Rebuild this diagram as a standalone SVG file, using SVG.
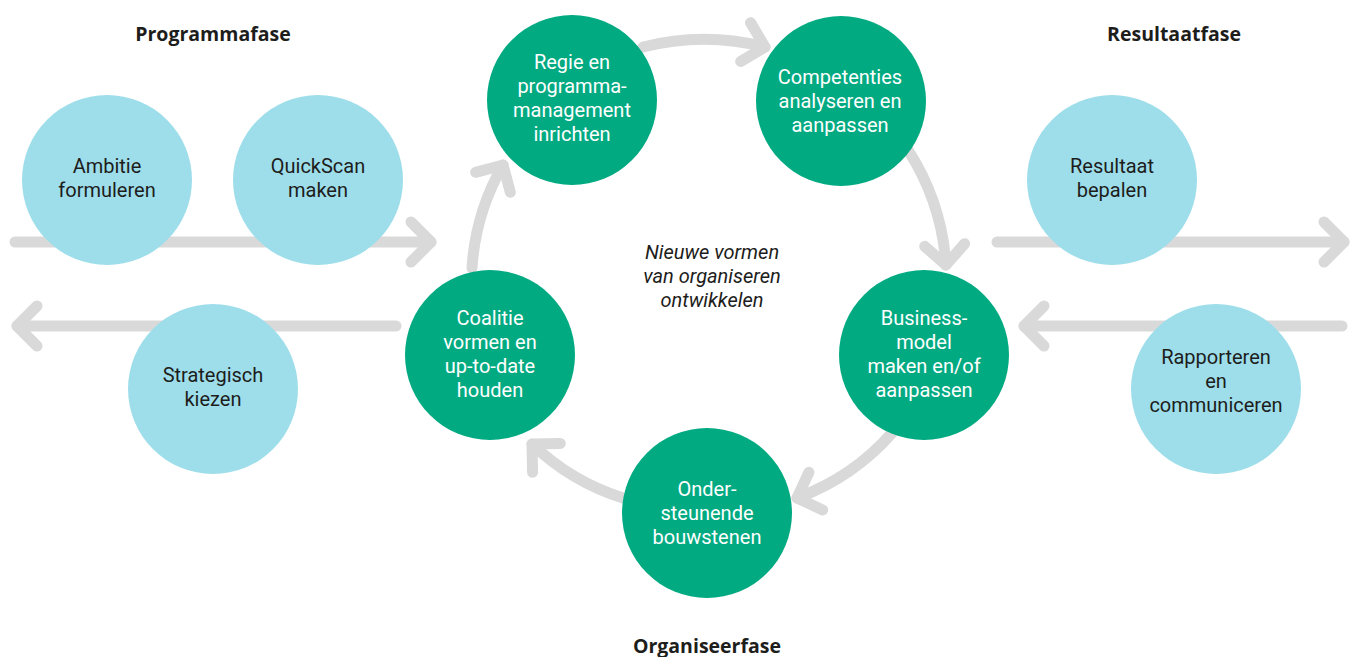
<svg xmlns="http://www.w3.org/2000/svg" width="1354" height="657" viewBox="0 0 1354 657">
  <style>
    .flow { fill: none; stroke: #d9d9d9; stroke-width: 11; stroke-linecap: round; stroke-linejoin: round; }
    .phase { fill: #9edeeb; }
    .step { fill: #02aa82; }
    .lbl { font-family: Roboto, "Liberation Sans", sans-serif; font-size: 20px; text-anchor: middle; }
    .lbl-dark { fill: #1d1d1b; }
    .lbl-light { fill: #ffffff; }
    .head { font-family: "Open Sans", "Liberation Sans", sans-serif; font-size: 19.5px; font-weight: bold; fill: #1d1d1b; text-anchor: middle; }
    .core { font-family: Roboto, "Liberation Sans", sans-serif; font-size: 20px; font-style: italic; fill: #1d1d1b; text-anchor: middle; }
  </style>
  <defs>
    <marker id="chevron" viewBox="-30 -30 40 60" markerWidth="40" markerHeight="60" refX="0" refY="0" orient="auto" markerUnits="userSpaceOnUse" overflow="visible">
      <path d="M -20 -20 L 0 0 L -20 20" fill="none" stroke="#d9d9d9" stroke-width="11" stroke-linecap="round" stroke-linejoin="round"/>
    </marker>
  </defs>

  <rect width="1354" height="657" fill="#ffffff"/>

  <!-- connectors -->
  <g id="connectors">
    <path class="flow" d="M 15 242 L 431 242" marker-end="url(#chevron)"/>
    <path class="flow" d="M 396 326 L 17 326" marker-end="url(#chevron)"/>
    <path class="flow" d="M 997 242 L 1344 242" marker-end="url(#chevron)"/>
    <path class="flow" d="M 1342 326 L 1024 326" marker-end="url(#chevron)"/>
    <path class="flow" d="M 643 47 A 247 247 0 0 1 765 47" marker-end="url(#chevron)"/>
    <path class="flow" d="M 908 150 A 242 242 0 0 1 946 265" marker-end="url(#chevron)"/>
    <path class="flow" d="M 892 433 A 234 234 0 0 1 797 498" marker-end="url(#chevron)"/>
    <path class="flow" d="M 623 498 A 233 233 0 0 1 532 444" marker-end="url(#chevron)"/>
    <path class="flow" d="M 472 268 A 236 236 0 0 1 503 165" marker-end="url(#chevron)"/>
  </g>

  <!-- phase headings -->
  <text class="head" x="213" y="41">Programmafase</text>
  <text class="head" x="1174" y="41">Resultaatfase</text>
  <text class="head" x="707" y="653">Organiseerfase</text>

  <!-- programme phase -->
  <g id="ambitie">
    <circle class="phase" cx="107" cy="180" r="85"/>
    <text class="lbl lbl-dark" x="107" y="173">Ambitie</text>
    <text class="lbl lbl-dark" x="107" y="197">formuleren</text>
  </g>
  <g id="quickscan">
    <circle class="phase" cx="318" cy="180" r="85"/>
    <text class="lbl lbl-dark" x="318" y="173">QuickScan</text>
    <text class="lbl lbl-dark" x="318" y="197">maken</text>
  </g>
  <g id="strategisch">
    <circle class="phase" cx="213" cy="389" r="85"/>
    <text class="lbl lbl-dark" x="213" y="382">Strategisch</text>
    <text class="lbl lbl-dark" x="213" y="406">kiezen</text>
  </g>

  <!-- result phase -->
  <g id="resultaat">
    <circle class="phase" cx="1112" cy="180" r="85"/>
    <text class="lbl lbl-dark" x="1112" y="173">Resultaat</text>
    <text class="lbl lbl-dark" x="1112" y="197">bepalen</text>
  </g>
  <g id="rapporteren">
    <circle class="phase" cx="1216" cy="389" r="85"/>
    <text class="lbl lbl-dark" x="1216" y="364">Rapporteren</text>
    <text class="lbl lbl-dark" x="1216" y="388">en</text>
    <text class="lbl lbl-dark" x="1216" y="412">communiceren</text>
  </g>

  <!-- organising cycle -->
  <text class="core" x="712" y="259">Nieuwe vormen</text>
  <text class="core" x="712" y="283">van organiseren</text>
  <text class="core" x="712" y="307">ontwikkelen</text>

  <g id="regie">
    <circle class="step" cx="572" cy="100" r="85"/>
    <text class="lbl lbl-light" x="572" y="69">Regie en</text>
    <text class="lbl lbl-light" x="572" y="93">programma-</text>
    <text class="lbl lbl-light" x="572" y="117">management</text>
    <text class="lbl lbl-light" x="572" y="141">inrichten</text>
  </g>
  <g id="competenties">
    <circle class="step" cx="841" cy="101" r="85"/>
    <text class="lbl lbl-light" x="840" y="84">Competenties</text>
    <text class="lbl lbl-light" x="840" y="108">analyseren en</text>
    <text class="lbl lbl-light" x="840" y="132">aanpassen</text>
  </g>
  <g id="businessmodel">
    <circle class="step" cx="924" cy="355" r="85"/>
    <text class="lbl lbl-light" x="924" y="325">Business-</text>
    <text class="lbl lbl-light" x="924" y="349">model</text>
    <text class="lbl lbl-light" x="924" y="373">maken en/of</text>
    <text class="lbl lbl-light" x="924" y="397">aanpassen</text>
  </g>
  <g id="bouwstenen">
    <circle class="step" cx="707" cy="513" r="85"/>
    <text class="lbl lbl-light" x="707" y="496">Onder-</text>
    <text class="lbl lbl-light" x="707" y="520">steunende</text>
    <text class="lbl lbl-light" x="707" y="544">bouwstenen</text>
  </g>
  <g id="coalitie">
    <circle class="step" cx="490" cy="355" r="85"/>
    <text class="lbl lbl-light" x="490" y="325">Coalitie</text>
    <text class="lbl lbl-light" x="490" y="349">vormen en</text>
    <text class="lbl lbl-light" x="490" y="373">up-to-date</text>
    <text class="lbl lbl-light" x="490" y="397">houden</text>
  </g>
</svg>
